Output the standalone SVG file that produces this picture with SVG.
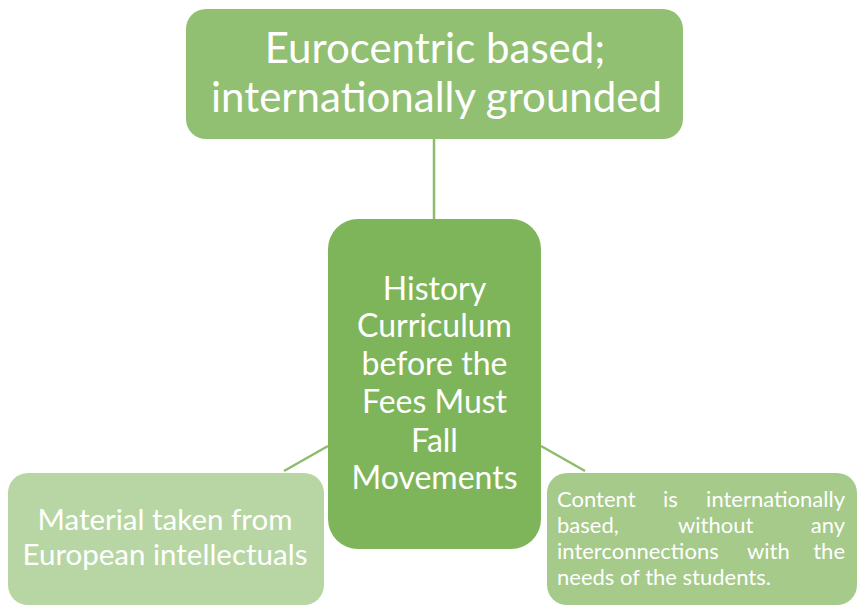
<svg xmlns="http://www.w3.org/2000/svg" width="857" height="613" viewBox="0 0 857 613">
<style>
.t{font-family:Lato,"Open Sans","Liberation Sans",sans-serif;fill:#ffffff}
.c{stroke:#8dbd6c;stroke-width:2.5;fill:none}
</style>
<rect width="857" height="613" fill="#ffffff"/>
<g id="connectors">
<line class="c" x1="434" y1="139" x2="434" y2="219"/>
<line class="c" x1="328" y1="446" x2="284" y2="471"/>
<line class="c" x1="541" y1="446" x2="585" y2="471"/>
</g>
<g id="top">
<rect x="186" y="9" width="497" height="130" rx="20" fill="#92c073"/>
<text class="t" font-size="42" text-anchor="middle" x="435" y="63">Eurocentric based;</text>
<text class="t" font-size="42" text-anchor="middle" x="436.5" y="112">internationally grounded</text>
</g>
<g id="center">
<rect x="328" y="219" width="213" height="330" rx="30" fill="#7fb55a"/>
<g class="t" font-size="32" text-anchor="middle">
<text x="434.5" y="300">History</text>
<text x="434.5" y="337">Curriculum</text>
<text x="434.5" y="375">before the</text>
<text x="434.5" y="413">Fees Must</text>
<text x="434.5" y="452">Fall</text>
<text x="434.5" y="489">Movements</text>
</g>
</g>
<g id="left">
<rect x="8" y="473" width="316" height="132" rx="20" fill="#b8d6a4"/>
<text class="t" font-size="29.5" text-anchor="middle" x="165" y="530">Material taken from</text>
<text class="t" font-size="29.5" text-anchor="middle" x="165" y="565">European intellectuals</text>
</g>
<g id="right">
<rect x="547" y="473" width="310" height="132" rx="20" fill="#a5ca8a"/>
<g class="t" font-size="22">
<text x="557" y="507">Content</text>
<text x="663" y="507">is</text>
<text x="845" y="507" text-anchor="end">internationally</text>
<text x="557" y="533">based,</text>
<text x="678" y="533">without</text>
<text x="845" y="533" text-anchor="end">any</text>
<text x="557" y="559">interconnections</text>
<text x="747" y="559">with</text>
<text x="845" y="559" text-anchor="end">the</text>
<text x="557" y="585">needs of the students.</text>
</g>
</g>
</svg>
